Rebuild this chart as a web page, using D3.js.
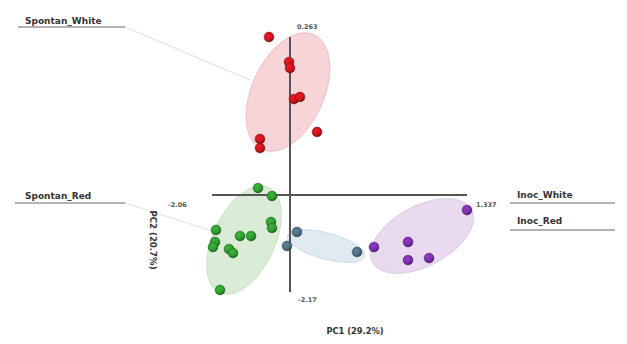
<!DOCTYPE html>
<html><head><meta charset="utf-8">
<script src="https://cdn.jsdelivr.net/npm/d3@7"></script>
<style>body{margin:0;background:#fff}svg{display:block}</style>
</head><body>
<svg id="c" width="627" height="344"></svg>
<script>
// ---- data ----
const groups = ["Spontan_White","Spontan_Red","Inoc_White","Inoc_Red"];
const spontanWhiteX = [-1.301,-1.034,-1.021,-0.968,-0.888,-0.661,-1.421,-1.421];
const spontanWhiteY = [0.263,0.024,-0.033,-0.329,-0.309,-0.643,-0.710,-0.796];
const spontanRedX = [-1.447,-1.261,-1.274,-1.261,-2.007,-1.687,-1.540,-2.020,-2.047,-1.834,-1.780,-1.953];
const spontanRedY = [-1.178,-1.254,-1.502,-1.559,-1.578,-1.636,-1.636,-1.693,-1.741,-1.760,-1.798,-2.151];
const inocWhiteX = [-0.928,-1.061,-0.128];
const inocWhiteY = [-1.597,-1.731,-1.788];
const inocRedX = [1.337,0.098,0.551,0.551,0.831];
const inocRedY = [-1.388,-1.741,-1.693,-1.865,-1.846];
// ellipse: center x, center y, half-axis a (dx,dy), half-axis b (dx,dy)
const ellipseSpontanWhite = [-1.048,-0.262, 0.346,0.547, 0.437,-0.142];
const ellipseSpontanRed   = [-1.634,-1.674, 0.326,0.502, 0.374,-0.125];
const ellipseInocWhite    = [-0.541,-1.731, 0.514,-0.099, -0.045,-0.120];
const ellipseInocRed      = [0.738,-1.636, 0.658,0.251, 0.188,-0.253];
const xTickLabels = ["-2.06","1.337"];
const yTickLabels = ["0.263","-2.17"];
const xExtent = [-2.06,1.337];
const yExtent = [-2.17,0.263];
const axisCross = [-1.021,-1.244];
const xTitle = "PC1 (29.2%)";
const yTitle = "PC2 (20.7%)";

// ---- style ----
const fills = ["#f6cdd0","#d3e9cf","#d9e6ee","#e6d3ec"];
const strokes = ["#eab4b9","#bcdcb7","#c2d4df","#d5bde0"];
const dotCol = ["#c8141c","#2f9a2f","#4d6e7e","#7a2fa8"];
const dotDark = ["#7a0a0e","#16591a","#2a3f4a","#431563"];
const font = "DejaVu Sans, Verdana, sans-serif";

const svg = d3.select("#c");
const x = d3.scaleLinear().domain(xExtent).range([212,467]);
const y = d3.scaleLinear().domain(yExtent).range([292,37]);

const defs = svg.append("defs");
dotCol.forEach((c,i)=>{
  const g = defs.append("radialGradient").attr("id","g"+i).attr("cx","40%").attr("cy","35%").attr("r","65%");
  g.append("stop").attr("offset","0%").attr("stop-color",d3.color(c).brighter(0.5));
  g.append("stop").attr("offset","70%").attr("stop-color",c);
  g.append("stop").attr("offset","100%").attr("stop-color",dotDark[i]);
});

// leader lines (layout)
const leaders = [[125,27,250,80],[125,203,215,232],[466,234,376,236]];
svg.selectAll("line.lead").data(leaders).enter().append("line")
  .attr("x1",d=>d[0]).attr("y1",d=>d[1]).attr("x2",d=>d[2]).attr("y2",d=>d[3])
  .attr("stroke","#e2e2e2").attr("stroke-width",1.2);

// ellipses
const ell = [ellipseSpontanWhite,ellipseSpontanRed,ellipseInocWhite,ellipseInocRed];
const line = d3.line().curve(d3.curveLinearClosed);
ell.forEach((e,i)=>{
  const pts = d3.range(0,72).map(k=>{
    const t = k/72*2*Math.PI;
    return [x(e[0]+e[2]*Math.cos(t)+e[4]*Math.sin(t)), y(e[1]+e[3]*Math.cos(t)+e[5]*Math.sin(t))];
  });
  svg.append("path").attr("d",line(pts)).attr("fill",fills[i]).attr("fill-opacity",0.85)
    .attr("stroke",strokes[i]).attr("stroke-width",0.8);
});

// axes
svg.append("line").attr("x1",x(axisCross[0])).attr("x2",x(axisCross[0]))
  .attr("y1",y(yExtent[1])).attr("y2",y(yExtent[0])).attr("stroke","#555").attr("stroke-width",2);
svg.append("line").attr("x1",x(xExtent[0])).attr("x2",x(xExtent[1]))
  .attr("y1",y(axisCross[1])).attr("y2",y(axisCross[1])).attr("stroke","#555").attr("stroke-width",2);

// points
const series = [[spontanWhiteX,spontanWhiteY],[spontanRedX,spontanRedY],[inocWhiteX,inocWhiteY],[inocRedX,inocRedY]];
series.forEach((s,i)=>{
  svg.append("g").selectAll("circle").data(s[0].map((v,j)=>[v,s[1][j]])).enter().append("circle")
    .attr("cx",d=>x(d[0])).attr("cy",d=>y(d[1])).attr("r",4.9)
    .attr("fill","url(#g"+i+")").attr("stroke",dotDark[i]).attr("stroke-width",0.5);
});

// tick labels
const tl = svg.append("g").attr("font-family",font).attr("font-size",6.5).attr("fill","#555").attr("font-weight","bold");
tl.append("text").attr("x",x(xExtent[0])-44).attr("y",y(axisCross[1])+12).text(xTickLabels[0]);
tl.append("text").attr("x",x(xExtent[1])+9).attr("y",y(axisCross[1])+12).text(xTickLabels[1]);
tl.append("text").attr("x",x(axisCross[0])+7).attr("y",y(yExtent[1])-8).text(yTickLabels[0]);
tl.append("text").attr("x",x(axisCross[0])+8).attr("y",y(yExtent[0])+10).text(yTickLabels[1]);

// axis titles
const at = svg.append("g").attr("font-family",font).attr("fill","#333").attr("font-weight","bold");
at.append("text").attr("x",355).attr("y",334).attr("font-size",8.3).attr("text-anchor","middle").text(xTitle);
at.append("text").attr("transform","translate(150,240) rotate(90)").attr("font-size",8.6).attr("text-anchor","middle").text(yTitle);

// group labels
const labPos = [[25,24,18,125,27],[25,199,15,125,203],[517,198,510,615,203],[517,224,510,615,230]];
const lg = svg.append("g").attr("font-family",font).attr("font-size",9).attr("fill","#333").attr("font-weight","bold");
groups.forEach((g,i)=>{
  const p = labPos[i];
  lg.append("text").attr("x",p[0]).attr("y",p[1]).text(g);
  svg.append("line").attr("x1",p[2]).attr("x2",p[3]).attr("y1",p[4]).attr("y2",p[4]).attr("stroke","#666").attr("stroke-width",1.1);
});
</script>
</body></html>
